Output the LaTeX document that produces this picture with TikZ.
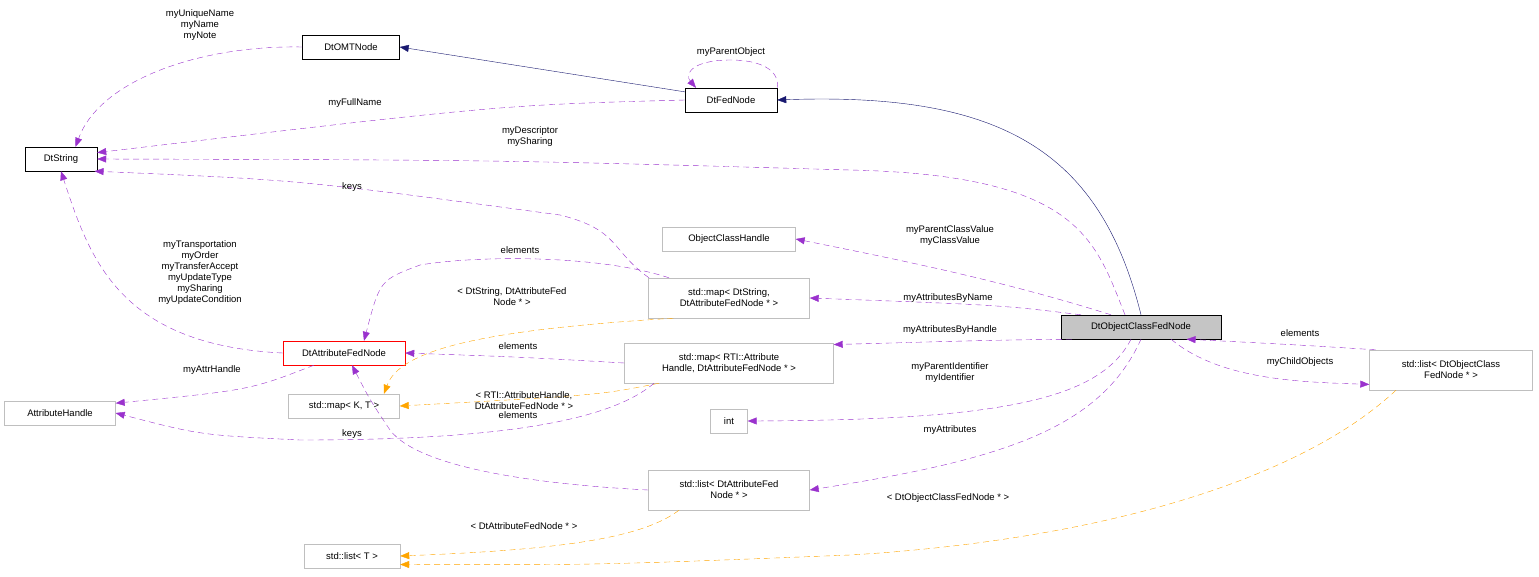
\documentclass[tikz,border=0pt]{standalone}
\usepackage{fontspec}
\setmainfont{Liberation Sans}
\usetikzlibrary{arrows.meta}
\definecolor{purp}{HTML}{9A32CD}
\definecolor{navy}{HTML}{191970}
\definecolor{orng}{HTML}{FFA500}
\definecolor{gbox}{HTML}{BFBFBF}
\begin{document}
\begin{tikzpicture}[x=1pt,y=-1pt,
  every node/.style={font=\fontsize{9.5}{11}\selectfont},
  box/.style={draw=black,fill=white,minimum height=24pt,inner xsep=4pt,align=center},
  gbox/.style={draw=gbox,fill=white,minimum height=24pt,inner xsep=4pt,align=center},
  lbl/.style={align=center,inner sep=1pt},
  mem/.style={-{Triangle[length=9pt,width=7pt,fill=purp]},draw=purp,dash pattern=on 6pt off 4pt},
  tpl/.style={-{Triangle[length=9pt,width=7pt,fill=orng]},draw=orng,dash pattern=on 6pt off 4pt},
  inh/.style={-{Triangle[length=9pt,width=7pt,fill=navy]},draw=navy}]
\useasboundingbox (0,0) rectangle (1539,576);
\node[box,minimum width=97pt] (omt) at (351,47) {DtOMTNode};
\node[box,minimum width=92pt] (fed) at (731,100) {DtFedNode};
\node[box,minimum width=72pt] (str) at (61,159) {DtString};
\node[gbox,minimum width=133pt] (och) at (729,239) {ObjectClassHandle};
\node[gbox,minimum width=161pt,minimum height=40pt] (m1) at (729,298) {std::map\textless{} DtString,\\DtAttributeFedNode * \textgreater};
\node[box,draw=red,minimum width=122pt] (attr) at (344,353) {DtAttributeFedNode};
\node[gbox,minimum width=209pt,minimum height=40pt] (m2) at (729,363) {std::map\textless{} RTI::Attribute\\Handle, DtAttributeFedNode * \textgreater};
\node[box,fill=gbox!90!white,minimum width=160pt] (obj) at (1141,327) {DtObjectClassFedNode};
\node[gbox,minimum width=163pt,minimum height=40pt] (l2) at (1451,370) {std::list\textless{} DtObjectClass\\FedNode * \textgreater};
\node[gbox,minimum width=111pt] (ah) at (60,413) {AttributeHandle};
\node[gbox,minimum width=111pt] (mkt) at (344,406) {std::map\textless{} K, T \textgreater};
\node[gbox,minimum width=37pt] (int) at (729,421) {int};
\node[gbox,minimum width=161pt,minimum height=40pt] (l1) at (729,490) {std::list\textless{} DtAttributeFed\\Node * \textgreater};
\node[gbox,minimum width=96pt] (lt) at (352,556) {std::list\textless{} T \textgreater};

% inheritance
\draw[inh] (fed.170) -- (omt.east);
\draw[inh] (obj.north) .. controls (1100,150) and (1000,92) .. (fed.east);
% self loop
\draw[mem] (fed.north east) .. controls (780,70) and (760,60) .. (731,60) .. controls (690,60) and (685,75) .. ([xshift=-35pt]fed.north);
\node[lbl] at (731,52) {myParentObject};
% to DtString
\draw[mem] (omt.west) .. controls (200,45) and (100,80) .. (str.40);
\node[lbl] at (200,25) {myUniqueName\\myName\\myNote};
\draw[mem] (fed.west) .. controls (500,105) .. (str.10);
\node[lbl] at (355,103) {myFullName};
\draw[mem] ([xshift=-16pt]obj.north) .. controls (1095,240) and (1080,175) .. (850,170) .. controls (500,160) .. (str.east);
\node[lbl] at (530,137) {myDescriptor\\mySharing};
\draw[mem] ([xshift=-80pt]m1.north) .. controls (610,250) and (620,230) .. (560,215) .. controls (300,180) .. (str.-20);
\node[lbl] at (352,187) {keys};
\draw[mem] (attr.west) .. controls (120,345) and (90,260) .. (str.south);
\node[lbl] at (200,273) {myTransportation\\myOrder\\myTransferAccept\\myUpdateType\\mySharing\\myUpdateCondition};
% to DtAttributeFedNode
\draw[mem] ([xshift=-60pt]m1.north) .. controls (600,255) and (480,255) .. (420,265) .. controls (380,280) .. ([xshift=20pt]attr.north);
\node[lbl] at (520,250) {elements};
\draw[mem] (m2.west) .. controls (520,357) .. (attr.east);
\node[lbl] at (518,346) {elements};
\draw[mem] (l1.west) .. controls (550,485) and (420,470) .. (390,430) .. controls (370,400) .. ([xshift=8pt]attr.south);
\node[lbl] at (518,415) {elements};
% to AttributeHandle
\draw[mem] ([xshift=-30pt]attr.south) .. controls (250,390) .. (ah.10);
\node[lbl] at (212,370) {myAttrHandle};
\draw[mem] ([xshift=-75pt]m2.south) .. controls (600,430) and (450,440) .. (300,440) .. controls (200,435) .. (ah.east);
\node[lbl] at (352,434) {keys};
% templates
\draw[tpl] (m1.-160) .. controls (480,330) and (400,350) .. ([xshift=40pt]mkt.north);
\node[lbl] at (512,297) {\textless{} DtString, DtAttributeFed\\Node * \textgreater};
\draw[tpl] ([xshift=-70pt]m2.south) .. controls (600,395) .. (mkt.east);
\node[lbl] at (524,401) {\textless{} RTI::AttributeHandle,\\DtAttributeFedNode * \textgreater};
\draw[tpl] ([xshift=-50pt]l1.south) .. controls (640,540) and (550,550) .. (lt.east);
\node[lbl] at (524,526) {\textless{} DtAttributeFedNode * \textgreater};
\draw[tpl] ([xshift=-55pt]l2.south) .. controls (1300,480) and (1100,540) .. (850,555) .. controls (600,565) .. (lt.-10);
\node[lbl] at (948,498) {\textless{} DtObjectClassFedNode * \textgreater};
% from DtObjectClassFedNode
\draw[mem] ([xshift=-30pt]obj.north) .. controls (1000,280) and (900,260) .. (och.east);
\node[lbl] at (950,236) {myParentClassValue\\myClassValue};
\draw[mem] ([xshift=-60pt]obj.north) .. controls (1000,305) .. (m1.east);
\node[lbl] at (948,298) {myAttributesByName};
\draw[mem] (obj.-170) .. controls (1000,340) .. (m2.10);
\node[lbl] at (950,330) {myAttributesByHandle};
\draw[mem] ([xshift=-10pt]obj.south) .. controls (1100,400) and (1000,420) .. (int.east);
\node[lbl] at (950,373) {myParentIdentifier\\myIdentifier};
\draw[mem] (obj.south) .. controls (1100,430) and (1000,460) .. (l1.east);
\node[lbl] at (950,430) {myAttributes};
\draw[mem] ([xshift=30pt]obj.south) .. controls (1220,380) and (1300,382) .. (l2.-170);
\node[lbl] at (1300,362) {myChildObjects};
\draw[mem] (l2.165) .. controls (1300,345) .. (obj.-15);
\node[lbl] at (1300,333) {elements};
\end{tikzpicture}
\end{document}
